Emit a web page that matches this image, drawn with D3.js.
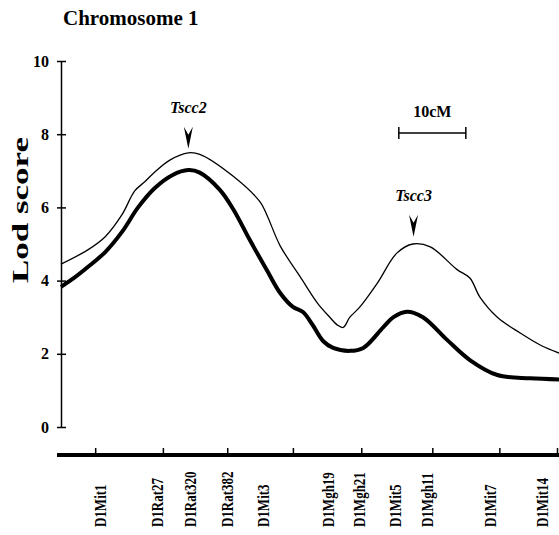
<!DOCTYPE html>
<html>
<head>
<meta charset="utf-8">
<script src="https://cdn.jsdelivr.net/npm/d3@7"></script>
<style>
  body { margin: 0; background: #fff; }
  text { font-family: "Liberation Serif", "Times New Roman", serif; font-weight: bold; }
</style>
</head>
<body>
<div id="chart"></div>
<script>
// map position (cM from the left axis) and lod scores
var thinPos = [0, 4.0, 6.6, 9.1, 11.0, 12.5, 14.0, 16.3, 19.0, 20.7, 25.7, 29.7, 30.7, 32.7, 35.7, 38.2, 40.1, 41.2, 42.1, 43.1, 44.6, 47.2, 50.1, 52.5, 55.1, 59.1, 61.0, 62.5, 65.1, 68.5, 71.5, 74.3];
var thinLod = [4.45, 4.84, 5.2, 5.8, 6.45, 6.7, 6.97, 7.3, 7.49, 7.45, 6.85, 6.15, 5.8, 4.95, 4.1, 3.4, 3.0, 2.79, 2.72, 3.0, 3.28, 3.93, 4.75, 5.0, 4.92, 4.3, 4.07, 3.55, 3.0, 2.57, 2.24, 2.02];

var thickPos = [0, 2.0, 4.0, 6.6, 9.1, 11.5, 14.0, 16.6, 19.0, 20.7, 23.7, 25.7, 28.2, 30.7, 32.7, 34.6, 36.1, 37.5, 39.1, 40.6, 43.1, 45.1, 48.1, 49.6, 51.6, 54.0, 57.6, 61.0, 65.1, 70.0, 74.3];
var thickLod = [3.83, 4.08, 4.37, 4.78, 5.33, 6.0, 6.53, 6.88, 7.02, 6.95, 6.48, 5.95, 5.1, 4.29, 3.66, 3.28, 3.14, 2.8, 2.35, 2.16, 2.08, 2.16, 2.73, 3.0, 3.15, 3.0, 2.38, 1.83, 1.42, 1.33, 1.3];

var markerNames = ["D1Mit1", "D1Rat27", "D1Rat320", "D1Rat382", "D1Mit3", "D1Mgh19", "D1Mgh21", "D1Mit5", "D1Mgh11", "D1Mit7", "D1Mit14"];
var markerPos = [5.8, 14.3, 19.3, 24.8, 30.1, 39.9, 44.4, 49.9, 54.6, 64.0, 71.8];
var axisTickPos = [5.1, 15.2, 24.8, 34.6, 44.8, 55.4, 65.4, 74.0];

var lodTicks = [0, 2, 4, 6, 8, 10];

var qtlNames = ["Tscc2", "Tscc3"];
var qtlPos = [19.0, 52.6];
var qtlTip = [7.6, 5.2];

var scaleBarStart = 50.4;
var scaleBarLength = 10;

var width = 559, height = 535;

var svg = d3.select("#chart").append("svg")
  .attr("width", width)
  .attr("height", height);

var x = d3.scaleLinear().domain([0, 74.3]).range([61, 559]);
var y = d3.scaleLinear().domain([0, 10]).range([427, 61]);

// title
svg.append("text")
  .attr("x", 63).attr("y", 25)
  .attr("font-size", 21)
  .text("Chromosome 1");

// y axis
var yAxis = svg.append("g")
  .attr("transform", "translate(" + x(0) + ",0)")
  .call(d3.axisLeft(y).tickValues(lodTicks).tickSize(4).tickSizeOuter(0).tickPadding(8));
yAxis.select(".domain").attr("stroke-width", 1.5);
yAxis.selectAll(".tick line").attr("x1", 5).attr("stroke-width", 1.5);
yAxis.selectAll(".tick text")
  .attr("font-size", 16)
  .attr("font-family", "Liberation Serif, serif")
  .attr("font-weight", "bold")
  .attr("fill", "#000");

svg.append("text")
  .attr("transform", "translate(28,210) rotate(-90)")
  .attr("text-anchor", "middle")
  .attr("font-size", 24)
  .attr("textLength", 146)
  .attr("lengthAdjust", "spacingAndGlyphs")
  .text("Lod score");

// curves
var line = d3.line()
  .x(function(d) { return x(d[0]); })
  .y(function(d) { return y(d[1]); })
  .curve(d3.curveCatmullRom.alpha(0.5));

svg.append("path")
  .datum(d3.zip(thinPos, thinLod))
  .attr("fill", "none")
  .attr("stroke", "#000")
  .attr("stroke-width", 1.3)
  .attr("d", line);

svg.append("path")
  .datum(d3.zip(thickPos, thickLod))
  .attr("fill", "none")
  .attr("stroke", "#000")
  .attr("stroke-width", 4)
  .attr("d", line);

// QTL arrows
var qtl = svg.selectAll(".qtl").data(d3.zip(qtlNames, qtlPos, qtlTip))
  .enter().append("g")
  .attr("class", "qtl")
  .attr("transform", function(d) { return "translate(" + x(d[1]) + "," + y(d[2]) + ")"; });
qtl.append("path")
  .attr("d", "M0,0 L-4.5,-22 L0,-14 L4.5,-22 Z")
  .attr("fill", "#000");
qtl.append("text")
  .attr("y", -36)
  .attr("text-anchor", "middle")
  .attr("font-size", 16)
  .attr("font-style", "italic")
  .text(function(d) { return d[0]; });

// 10 cM scale bar
var sb = svg.append("g").attr("stroke", "#000").attr("stroke-width", 1.5);
sb.append("line")
  .attr("x1", x(scaleBarStart)).attr("x2", x(scaleBarStart + scaleBarLength))
  .attr("y1", 133).attr("y2", 133);
sb.selectAll(".cap").data([scaleBarStart, scaleBarStart + scaleBarLength])
  .enter().append("line")
  .attr("x1", function(d) { return x(d); }).attr("x2", function(d) { return x(d); })
  .attr("y1", 127).attr("y2", 139);
svg.append("text")
  .attr("x", x(scaleBarStart + scaleBarLength / 2))
  .attr("y", 117)
  .attr("text-anchor", "middle")
  .attr("font-size", 16)
  .text("10cM");

// chromosome axis
svg.append("line")
  .attr("x1", 57).attr("x2", 559)
  .attr("y1", 455).attr("y2", 455)
  .attr("stroke", "#000")
  .attr("stroke-width", 4);
var xAxis = svg.append("g")
  .attr("transform", "translate(0,453)")
  .call(d3.axisTop(x).tickValues(axisTickPos).tickSize(5).tickFormat(""));
xAxis.select(".domain").remove();
xAxis.selectAll(".tick line").attr("stroke-width", 1.5);

svg.selectAll(".marker").data(d3.zip(markerNames, markerPos))
  .enter().append("text")
  .attr("class", "marker")
  .attr("transform", function(d) { return "translate(" + x(d[1]) + ",527) rotate(-90) scale(1,1.3)"; })
  .attr("dy", "0.35em")
  .attr("text-anchor", "start")
  .attr("font-size", 13)
  .text(function(d) { return d[0]; });
</script>
</body>
</html>
